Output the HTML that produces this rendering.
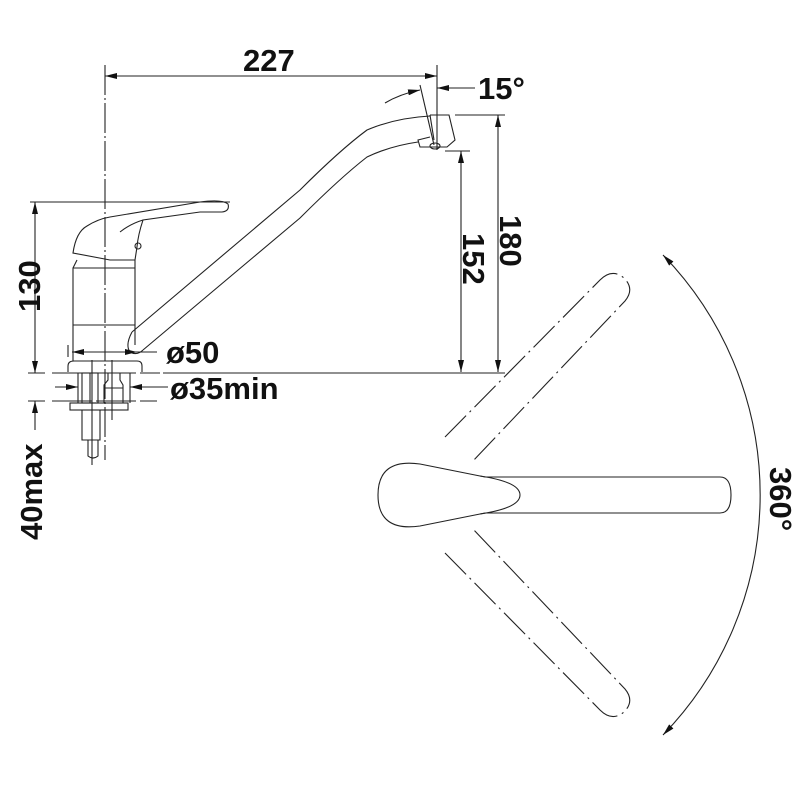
<!DOCTYPE html>
<html><head><meta charset="utf-8"><style>
html,body{margin:0;padding:0;background:#fff;}
svg{display:block;}
text{font-family:"Liberation Sans",Arial,sans-serif;font-weight:bold;fill:#111;}
</style></head><body>
<svg width="800" height="800" viewBox="0 0 800 800" xmlns="http://www.w3.org/2000/svg">
<defs>
<marker id="a" viewBox="0 0 12 6" refX="12" refY="3" markerWidth="12" markerHeight="6" orient="auto-start-reverse" markerUnits="userSpaceOnUse">
<path d="M0,0 L12,3 L0,6 Z" fill="#111"/></marker>
</defs>
<g fill="none" stroke="#222" stroke-width="1.1">
<line x1="105" y1="65" x2="105" y2="460" stroke-dasharray="30,3,2,3"/>
<line x1="105" y1="76" x2="437" y2="76" marker-start="url(#a)" marker-end="url(#a)"/>
<line x1="437" y1="65" x2="437" y2="150"/>
<line x1="420" y1="85" x2="434" y2="145"/>
<path d="M385,103 Q400,94 420,90" marker-end="url(#a)"/>
<line x1="475" y1="88" x2="437" y2="88" marker-end="url(#a)"/>
<path d="M132,332 L300,190 Q340,150 367,130 Q395,118 430,116"/>
<path d="M143,350 L300,218 Q340,178 367,157 Q390,146 418,142"/>
<path d="M132,332 Q125,345 130,352 Q137,356 143,350"/>
<path d="M430,115 L449,115 L455,140 L447,147 L420,147 L418,140 L430,137"/>
<path d="M430,115 L434,140"/>
<ellipse cx="435" cy="146" rx="5" ry="3"/>
<line x1="455" y1="115" x2="505" y2="115"/>
<line x1="498" y1="115" x2="498" y2="372" marker-start="url(#a)" marker-end="url(#a)"/>
<line x1="445" y1="151" x2="470" y2="151"/>
<line x1="461" y1="151" x2="461" y2="372" marker-start="url(#a)" marker-end="url(#a)"/>
<line x1="163" y1="373" x2="505" y2="373"/>
<line x1="28" y1="373" x2="45" y2="373"/>
<line x1="52" y1="373" x2="160" y2="373" stroke-dasharray="40,4"/>
<line x1="28" y1="401" x2="45" y2="401"/>
<line x1="52" y1="401" x2="157" y2="401" stroke-dasharray="40,4"/>
<line x1="30" y1="202" x2="230" y2="202"/>
<line x1="35" y1="202" x2="35" y2="373" marker-start="url(#a)" marker-end="url(#a)"/>
<line x1="35" y1="401" x2="35" y2="430" marker-start="url(#a)"/>
<path d="M73,253 Q76,232 87,226 Q98,219 110,217 L200,202 Q222,199 228,204 Q230,211 222,212 L200,212 L143,220 Q138,235 137,247 L135,260 L110,260 Z"/>
<path d="M120,232 Q130,224 143,220"/>
<circle cx="138" cy="246" r="3"/>
<path d="M77,260 L73,268 L73,345 M135,260 L135,345"/>
<line x1="73" y1="268" x2="135" y2="268"/>
<line x1="73" y1="325" x2="135" y2="325"/>
<path d="M68,372 L68,366 Q68,361 74,361 L137,361 Q142,361 142,366 L142,372"/>
<line x1="73" y1="345" x2="73" y2="361"/>
<line x1="68" y1="345" x2="68" y2="357"/>
<line x1="92" y1="352" x2="72" y2="352" marker-end="url(#a)"/>
<line x1="92" y1="352" x2="137" y2="352" marker-end="url(#a)"/>
<line x1="137" y1="352" x2="157" y2="352"/>
<line x1="55" y1="387" x2="78" y2="387" marker-end="url(#a)"/>
<line x1="168" y1="387" x2="130" y2="387" marker-end="url(#a)"/>
<line x1="78" y1="373" x2="78" y2="403"/>
<line x1="130" y1="373" x2="130" y2="403"/>
<rect x="82" y="373" width="16" height="30"/>
<line x1="90" y1="373" x2="90" y2="403"/>
<path d="M104,403 L104,385 L108,380 L108,373 L120,373 L120,380 L123,385 L123,403"/>
<line x1="104" y1="388" x2="123" y2="388"/>
<rect x="70" y="403" width="58" height="7"/>
<path d="M82,410 L82,440 L100,440 L100,410"/>
<path d="M88,440 L88,456 Q93,460 98,456 L98,440"/>
<line x1="92" y1="360" x2="92" y2="465"/>
<line x1="112" y1="360" x2="112" y2="420"/>
<!-- top view -->
<path d="M485,477 L720,477 Q731,477 731,495 Q731,513 720,513 L485,513"/>
<path d="M485,477 L420,464 Q378,458 378,495 Q378,532 420,526 L485,513"/>
<path d="M480,476 Q520,482 520,495 Q520,508 480,514"/>
<g stroke-dasharray="30,5,2,5">
<path d="M445,437 L600,280 Q612,268 624,278 Q635,289 625,301 L472,462"/>
<path d="M445,553 L600,710 Q612,722 624,712 Q635,701 625,689 L472,528"/>
</g>
<path d="M663,255 A345,345 0 0 1 663,735" marker-start="url(#a)" marker-end="url(#a)"/>
</g>
<g font-size="31">
<text x="243" y="71">227</text>
<text x="478" y="99">15°</text>
<text x="166" y="363">ø50</text>
<text x="170" y="399">ø35min</text>
<text transform="translate(500,215) rotate(90)">180</text>
<text transform="translate(463,233) rotate(90)">152</text>
<text transform="translate(40,312) rotate(-90)">130</text>
<text transform="translate(42,540) rotate(-90)">40max</text>
<text transform="translate(770,467) rotate(90)">360°</text>
</g>
</svg>
</body></html>
